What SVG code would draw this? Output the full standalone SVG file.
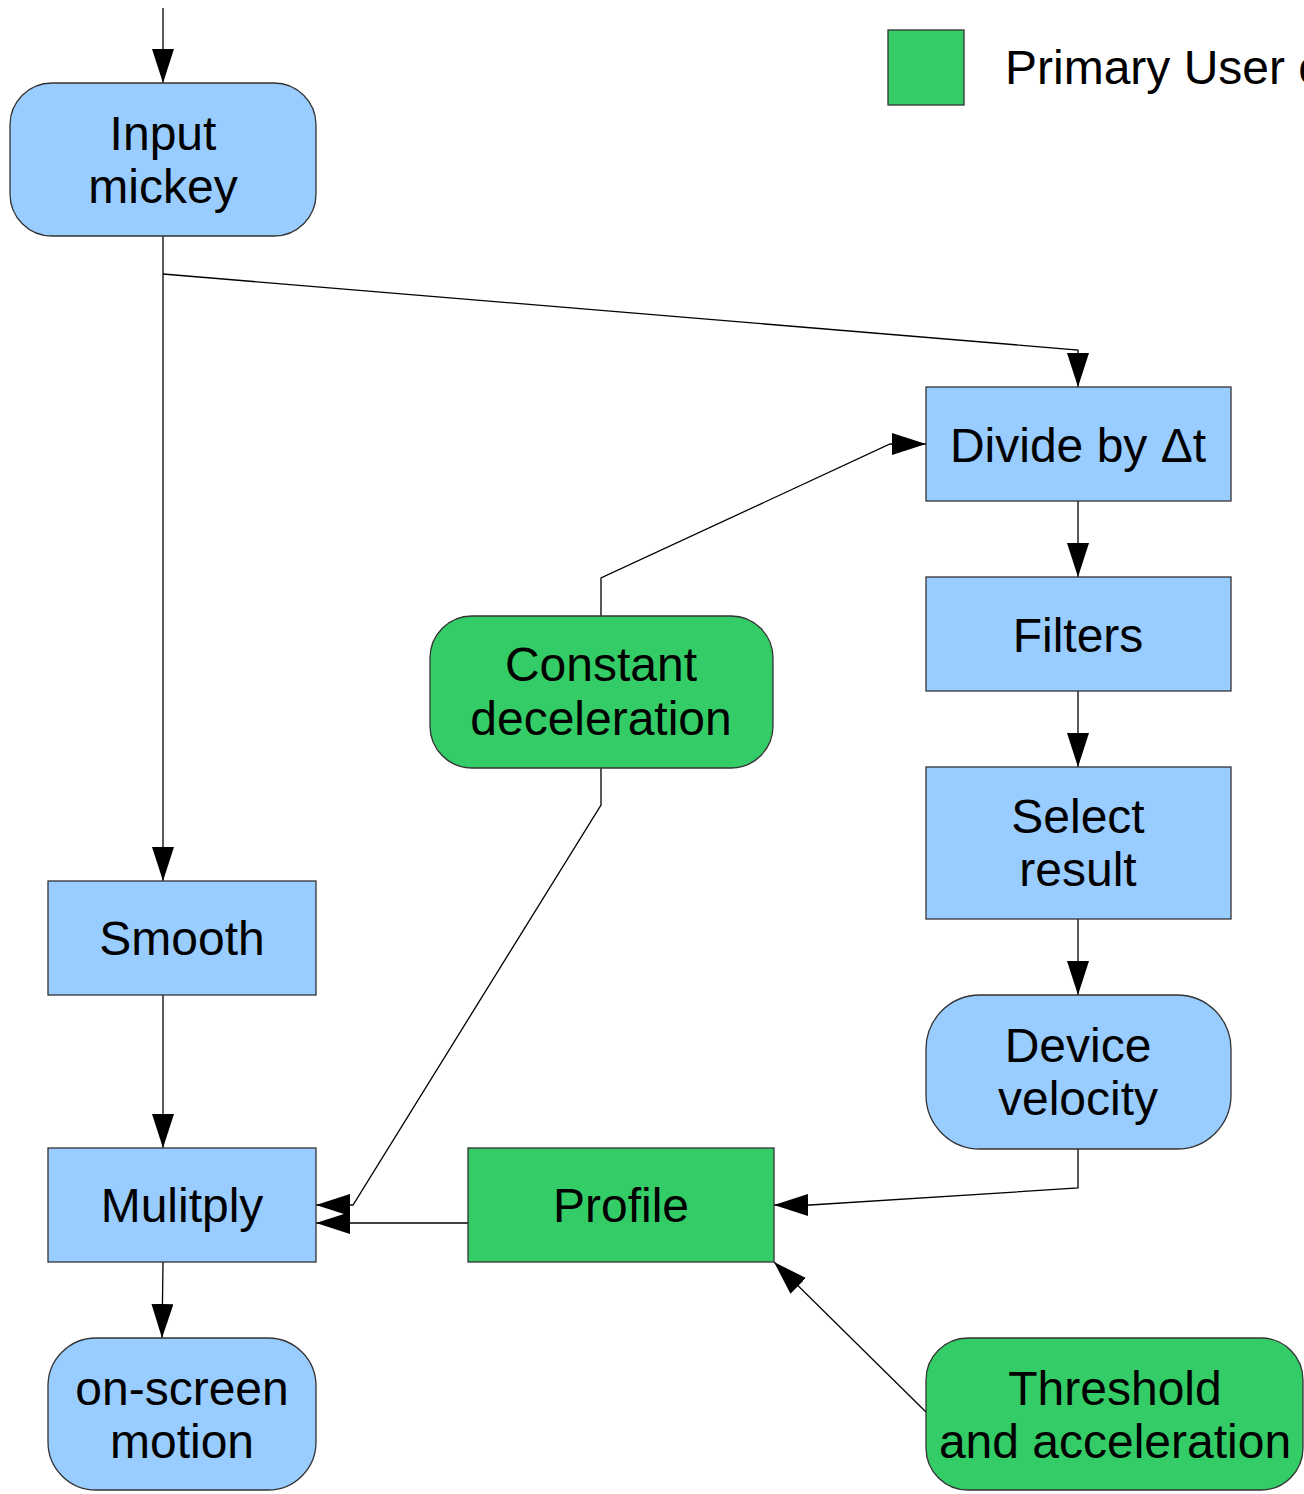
<svg xmlns="http://www.w3.org/2000/svg" width="1304" height="1494" viewBox="0 0 1304 1494">
<style>
.blue{fill:#99ccff;stroke:#333;stroke-width:1.3}
.green{fill:#33cc66;stroke:#333;stroke-width:1.3}
.t{font-family:"Liberation Sans",Arial,sans-serif;font-size:48px;fill:#000;text-anchor:middle}
.c{fill:none;stroke:#000;stroke-width:1.3}
</style>
<defs>
<marker id="ah" markerUnits="userSpaceOnUse" markerWidth="36" markerHeight="24" refX="34" refY="11" orient="auto" viewBox="0 0 36 24">
<path d="M0,0 L34,11 L0,22 z" fill="#000"/>
</marker>
</defs>
<rect width="1304" height="1494" fill="#fff"/>
<g id="connectors">
<path class="c" d="M163,8 L163,83" marker-end="url(#ah)"/>
<path class="c" d="M163,236 L163,881" marker-end="url(#ah)"/>
<path class="c" d="M163,274 L1078,350 L1078,387" marker-end="url(#ah)"/>
<path class="c" d="M601,616 L601,578 L890,444 L926,444" marker-end="url(#ah)"/>
<path class="c" d="M601,768 L601,805 L353,1205 L316,1205" marker-end="url(#ah)"/>
<path class="c" d="M468,1223 L316,1223" marker-end="url(#ah)"/>
<path class="c" d="M1078,1149 L1078,1188 L810,1205 L774,1205" marker-end="url(#ah)"/>
<path class="c" d="M926,1412 L774,1262" marker-end="url(#ah)"/>
<path class="c" d="M163,995 L163,1148" marker-end="url(#ah)"/>
<path class="c" d="M163,1262 L162,1338" marker-end="url(#ah)"/>
<path class="c" d="M1078,501 L1078,577" marker-end="url(#ah)"/>
<path class="c" d="M1078,691 L1078,767" marker-end="url(#ah)"/>
<path class="c" d="M1078,919 L1078,995" marker-end="url(#ah)"/>
</g>
<g id="legend">
<rect class="green" x="888" y="30" width="76" height="75"/>
<text class="t" x="1005" y="84" style="text-anchor:start">Primary User c</text>
</g>
<g id="input-mickey">
<rect class="blue" x="10" y="83" width="306" height="153" rx="42" ry="42"/>
<text class="t" x="163" y="150">Input</text>
<text class="t" x="163" y="203">mickey</text>
</g>
<g id="divide">
<rect class="blue" x="926" y="387" width="305" height="114"/>
<text class="t" x="1078" y="462">Divide by Δt</text>
</g>
<g id="filters">
<rect class="blue" x="926" y="577" width="305" height="114"/>
<text class="t" x="1078" y="652">Filters</text>
</g>
<g id="select-result">
<rect class="blue" x="926" y="767" width="305" height="152"/>
<text class="t" x="1078" y="833">Select</text>
<text class="t" x="1078" y="886">result</text>
</g>
<g id="device-velocity">
<rect class="blue" x="926" y="995" width="305" height="154" rx="54" ry="54"/>
<text class="t" x="1078" y="1062">Device</text>
<text class="t" x="1078" y="1115">velocity</text>
</g>
<g id="constant-deceleration">
<rect class="green" x="430" y="616" width="343" height="152" rx="42" ry="42"/>
<text class="t" x="601" y="681">Constant</text>
<text class="t" x="601" y="735">deceleration</text>
</g>
<g id="smooth">
<rect class="blue" x="48" y="881" width="268" height="114"/>
<text class="t" x="182" y="955">Smooth</text>
</g>
<g id="multiply">
<rect class="blue" x="48" y="1148" width="268" height="114"/>
<text class="t" x="182" y="1222">Mulitply</text>
</g>
<g id="profile">
<rect class="green" x="468" y="1148" width="306" height="114"/>
<text class="t" x="621" y="1222">Profile</text>
</g>
<g id="on-screen-motion">
<rect class="blue" x="48" y="1338" width="268" height="152" rx="48" ry="48"/>
<text class="t" x="182" y="1405">on-screen</text>
<text class="t" x="182" y="1458">motion</text>
</g>
<g id="threshold">
<rect class="green" x="926" y="1338" width="377" height="152" rx="42" ry="42"/>
<text class="t" x="1115" y="1405">Threshold</text>
<text class="t" x="1115" y="1458">and acceleration</text>
</g>
</svg>
